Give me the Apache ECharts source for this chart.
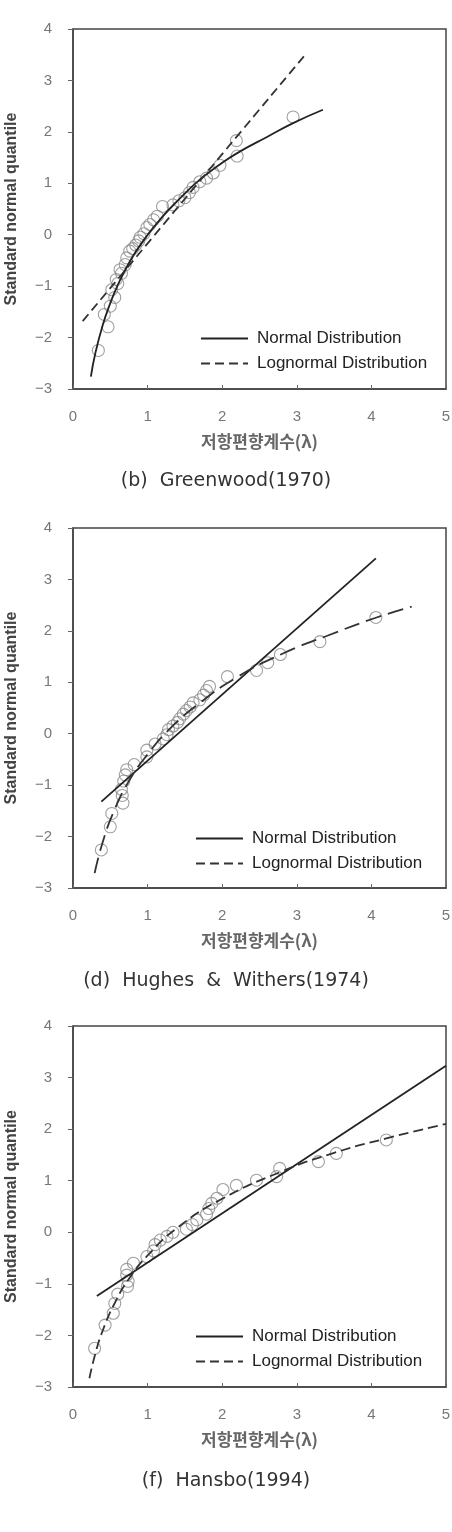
<!DOCTYPE html>
<html><head><meta charset="utf-8">
<script src="https://cdn.jsdelivr.net/npm/echarts@6/dist/echarts.min.js"></script>
<style>html,body{margin:0;padding:0;background:#fff}#c{width:452px;height:1532px}</style>
</head><body><div id="c"></div>
<script>
// ---- axis settings ----
const xRange = [0, 5];
const yRange = [-3, 4];
const xTitle = '저항편향계수(λ)';
const yTitle = 'Standard normal quantile';
const legendNames = ['Normal Distribution', 'Lognormal Distribution'];
const captions = ['(b)  Greenwood(1970)', '(d)  Hughes  &  Withers(1974)', '(f)  Hansbo(1994)'];

// ---- (b) Greenwood (1970) ----
const gwObs = [[0.34,-2.25],[0.47,-1.79],[0.42,-1.55],[0.5,-1.39],[0.56,-1.22],[0.52,-1.07],[0.6,-0.95],[0.58,-0.87],[0.65,-0.75],[0.63,-0.68],[0.7,-0.58],[0.72,-0.45],[0.76,-0.32],[0.8,-0.27],[0.84,-0.2],[0.9,-0.05],[0.88,-0.12],[0.95,0.02],[0.99,0.14],[1.03,0.2],[1.08,0.29],[1.13,0.36],[1.2,0.55],[1.34,0.58],[1.42,0.66],[1.5,0.72],[1.56,0.82],[1.61,0.92],[1.7,1.03],[1.79,1.1],[1.88,1.2],[1.97,1.35],[2.2,1.53],[2.19,1.83],[2.95,2.29]];
const gwNormal = [[0.24,-2.76],[0.3,-2.3],[0.4,-1.75],[0.5,-1.33],[0.6,-0.98],[0.75,-0.55],[0.94,-0.12],[1.2,0.35],[1.43,0.7],[1.7,1.07],[2.0,1.4],[2.24,1.62],[2.6,1.9],[2.95,2.17],[3.35,2.43]];
const gwLognormal = [[0.13,-1.68],[3.13,3.53]];

// ---- (d) Hughes & Withers (1974) ----
const hwObs = [[0.38,-2.26],[0.5,-1.81],[0.52,-1.55],[0.67,-1.35],[0.66,-1.2],[0.65,-1.08],[0.68,-0.92],[0.7,-0.8],[0.72,-0.7],[0.82,-0.6],[0.99,-0.45],[0.99,-0.32],[1.1,-0.2],[1.21,-0.1],[1.26,-0.02],[1.28,0.08],[1.34,0.15],[1.4,0.22],[1.43,0.29],[1.48,0.38],[1.52,0.45],[1.57,0.52],[1.61,0.6],[1.7,0.66],[1.75,0.75],[1.79,0.84],[1.83,0.92],[2.07,1.11],[2.46,1.23],[2.61,1.38],[2.78,1.54],[3.31,1.79],[4.06,2.26]];
const hwNormal = [[0.38,-1.32],[4.06,3.41]];
const hwLognormal = [[0.29,-2.71],[0.4,-2.1],[0.55,-1.5],[0.75,-0.92],[1.0,-0.4],[1.3,0.1],[1.7,0.6],[2.2,1.1],[2.8,1.55],[3.4,1.9],[4.05,2.25],[4.54,2.47]];

// ---- (f) Hansbo (1994) ----
const hbObs = [[0.29,-2.25],[0.43,-1.8],[0.54,-1.57],[0.56,-1.38],[0.6,-1.2],[0.73,-1.05],[0.74,-0.95],[0.72,-0.83],[0.72,-0.72],[0.81,-0.6],[0.99,-0.47],[1.08,-0.36],[1.1,-0.24],[1.17,-0.15],[1.26,-0.08],[1.34,0.0],[1.52,0.06],[1.6,0.15],[1.66,0.24],[1.79,0.35],[1.82,0.46],[1.86,0.56],[1.93,0.66],[2.01,0.83],[2.19,0.91],[2.46,1.01],[2.73,1.08],[2.77,1.24],[3.29,1.37],[3.53,1.53],[4.2,1.79]];
const hbNormal = [[0.32,-1.235],[5.0,3.23]];
const hbLognormal = [[0.22,-2.83],[0.3,-2.35],[0.4,-1.9],[0.55,-1.4],[0.75,-0.9],[1.0,-0.45],[1.4,0.09],[2.0,0.65],[2.8,1.18],[3.5,1.54],[4.2,1.82],[5.0,2.1]];

const panels = [
  {obs: gwObs, normal: gwNormal, lognormal: gwLognormal, dash: [9,5], top: 29, h: 360, legendLeft: 200, legendTop: 330, capY: 479},
  {obs: hwObs, normal: hwNormal, lognormal: hwLognormal, dash: [16,7], top: 528, h: 360, legendLeft: 195, legendTop: 830, capY: 979},
  {obs: hbObs, normal: hbNormal, lognormal: hbLognormal, dash: [10,5], top: 1026, h: 361, legendLeft: 195, legendTop: 1328, capY: 1479}
];

const grid = [], xAxis = [], yAxis = [], series = [], legend = [], graphic = [];
const labelFont = 'Liberation Sans, Arial, sans-serif';
panels.forEach((p, i) => {
  grid.push({left: 73, top: p.top, width: 373, height: p.h, show: true, borderColor: '#444', borderWidth: 1.5,
    backgroundColor: 'transparent', containLabel: false, outerBoundsMode: 'none'});
  xAxis.push({type: 'value', gridIndex: i, min: xRange[0], max: xRange[1], interval: 1,
    name: xTitle, nameLocation: 'middle', nameGap: 44,
    nameTextStyle: {fontFamily: 'Noto Sans CJK KR', fontSize: 17, fontWeight: 'bold', color: '#666'},
    axisLine: {show: true, onZero: false, lineStyle: {color: '#444', width: 1.5}},
    axisTick: {show: true, inside: true, length: 4, lineStyle: {color: '#666'}},
    axisLabel: {margin: 20, fontSize: 15, color: '#777', fontFamily: labelFont},
    splitLine: {show: false}});
  yAxis.push({type: 'value', gridIndex: i, min: yRange[0], max: yRange[1], interval: 1,
    name: yTitle, nameLocation: 'middle', nameGap: 53, nameRotate: 90,
    nameTextStyle: {fontFamily: labelFont, fontSize: 16, fontWeight: 'bold', color: '#444'},
    axisLine: {show: true, onZero: false, lineStyle: {color: '#444', width: 1.5}},
    axisTick: {show: true, inside: false, length: 5, lineStyle: {color: '#666'}},
    axisLabel: {margin: 21, fontSize: 15, color: '#777', fontFamily: labelFont,
      formatter: v => String(v).replace('-', '\u2212')},
    splitLine: {show: false}});
  series.push({type: 'scatter', xAxisIndex: i, yAxisIndex: i, data: p.obs, symbol: 'circle', symbolSize: 12, z: 1,
    itemStyle: {color: 'rgba(0,0,0,0)', borderColor: '#888', borderWidth: 1.1}});
  series.push({type: 'line', name: legendNames[0], xAxisIndex: i, yAxisIndex: i, data: p.normal, smooth: true,
    symbol: 'none', showSymbol: false, z: 3, itemStyle: {color: 'rgba(0,0,0,0)'},
    lineStyle: {color: '#222', width: 1.8, type: 'solid'}});
  series.push({type: 'line', name: legendNames[1], xAxisIndex: i, yAxisIndex: i, data: p.lognormal, smooth: true,
    symbol: 'none', showSymbol: false, z: 3, itemStyle: {color: 'rgba(0,0,0,0)'},
    lineStyle: {color: '#333', width: 1.8, type: p.dash}});
  legend.push({data: legendNames, orient: 'vertical', left: p.legendLeft, top: p.legendTop, padding: 0,
    itemWidth: 47, itemHeight: 14, itemGap: 8, selectedMode: false,
    itemStyle: {color: 'rgba(0,0,0,0)', borderWidth: 0},
    textStyle: {fontFamily: labelFont, fontSize: 17, color: '#222', padding: [0,0,0,4]}});
  graphic.push({type: 'text', left: 'center', top: p.capY - 7, silent: true,
    style: {text: captions[i], fontFamily: 'DejaVu Sans', fontSize: 19, fill: '#333'}});
});

const chart = echarts.init(document.getElementById('c'), null, {renderer: 'canvas'});
chart.setOption({backgroundColor: '#fff', animation: false, grid, xAxis, yAxis, series, legend, graphic});
</script></body></html>
